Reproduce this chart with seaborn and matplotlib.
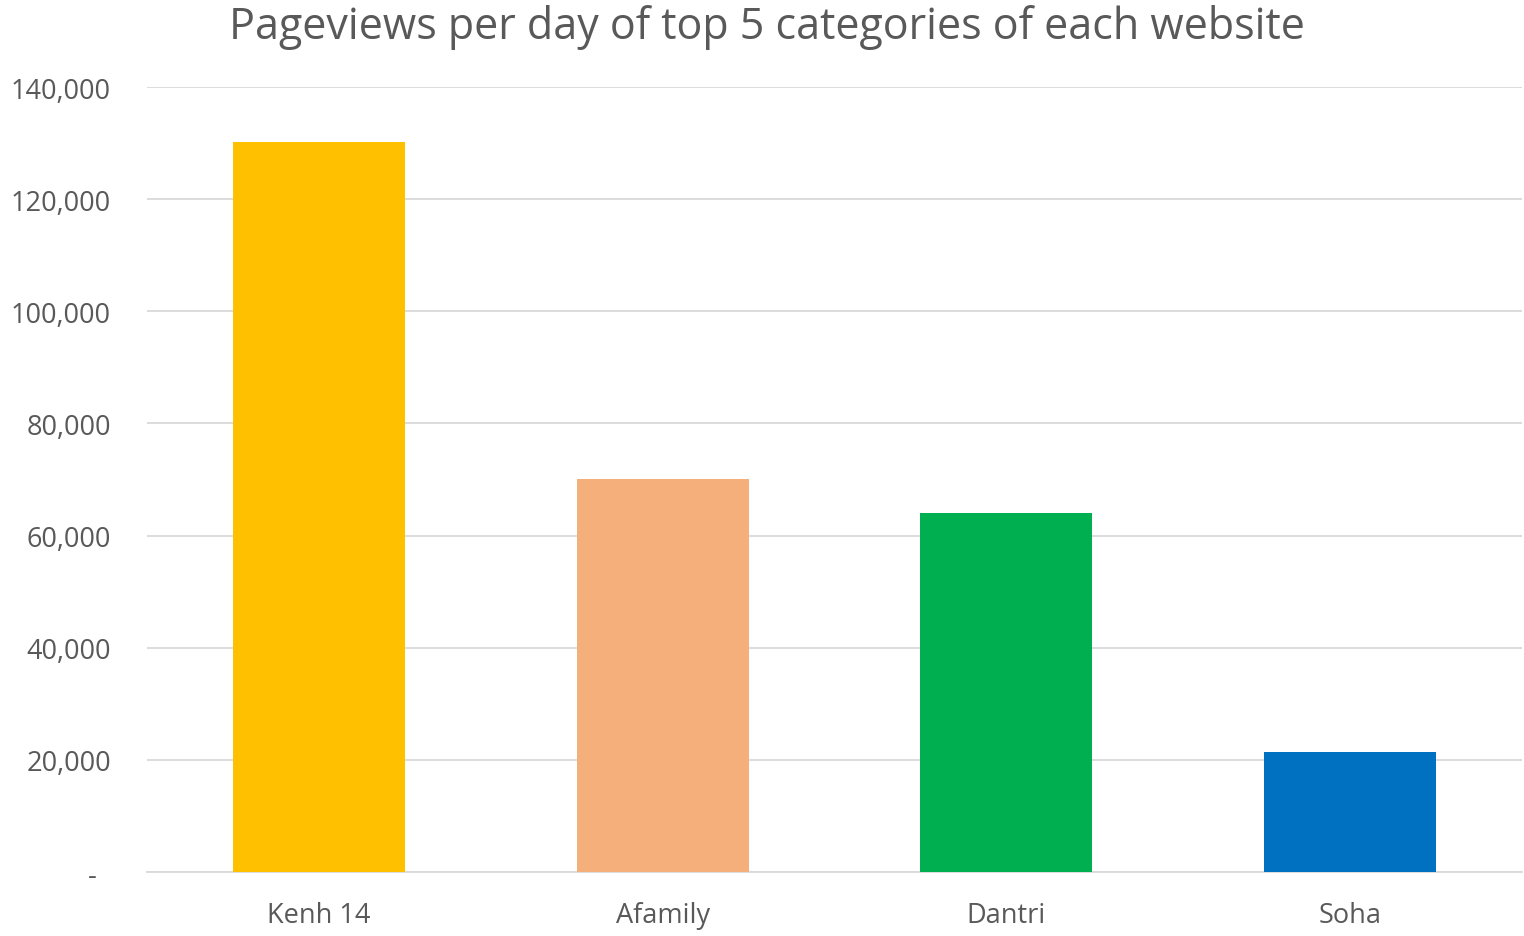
import matplotlib
matplotlib.use("Agg")
import matplotlib.pyplot as plt
import matplotlib.ticker as mticker
import seaborn as sns
import pandas as pd

WEBSITES = ["Kenh 14", "Afamily", "Dantri", "Soha"]
PAGEVIEWS = [130200, 70100, 64000, 21400]
BAR_COLORS = ["#FFC000", "#F4AF7B", "#00B050", "#0070C0"]
TITLE = "Pageviews per day of top 5 categories of each website"

TEXT_COLOR = "#595959"
GRID_COLOR = "#D9D9D9"


def fmt_thousands(v, pos):
    if v == 0:
        return "-  "
    return f"{int(v):,}"


def main():
    sns.set_style("white")
    plt.rcParams["font.family"] = ["Open Sans", "DejaVu Sans"]

    df = pd.DataFrame({"website": WEBSITES, "pageviews": PAGEVIEWS})

    fig = plt.figure(figsize=(15.24, 9.37), dpi=100)
    ax = fig.add_axes([0.0965, 0.0683, 0.9022, 0.8377])

    sns.barplot(
        data=df,
        x="website",
        y="pageviews",
        hue="website",
        palette=BAR_COLORS,
        width=0.5,
        legend=False,
        saturation=1,
        linewidth=0,
        ax=ax,
        zorder=3,
    )

    ax.set_xlim(-0.5, 3.5)
    ax.set_ylim(0, 140000)
    ax.yaxis.set_major_locator(mticker.MultipleLocator(20000))
    ax.yaxis.set_major_formatter(mticker.FuncFormatter(fmt_thousands))
    ax.grid(axis="y", color=GRID_COLOR, linewidth=1.3, zorder=0)
    ax.set_axisbelow(True)

    for side in ["top", "right", "left"]:
        ax.spines[side].set_visible(False)
    ax.spines["bottom"].set_color(GRID_COLOR)
    ax.spines["bottom"].set_linewidth(1.3)

    ax.tick_params(axis="y", length=0, pad=26, labelsize=19.5, labelcolor=TEXT_COLOR)
    ax.tick_params(axis="x", length=0, pad=21, labelsize=19.5, labelcolor=TEXT_COLOR)
    ax.set_xlabel("")
    ax.set_ylabel("")

    fig.text(0.503, 0.971, TITLE, ha="center", va="center",
             fontsize=31, color=TEXT_COLOR)

    fig.savefig("out.png", dpi=100)
    plt.close(fig)


if __name__ == "__main__":
    main()
